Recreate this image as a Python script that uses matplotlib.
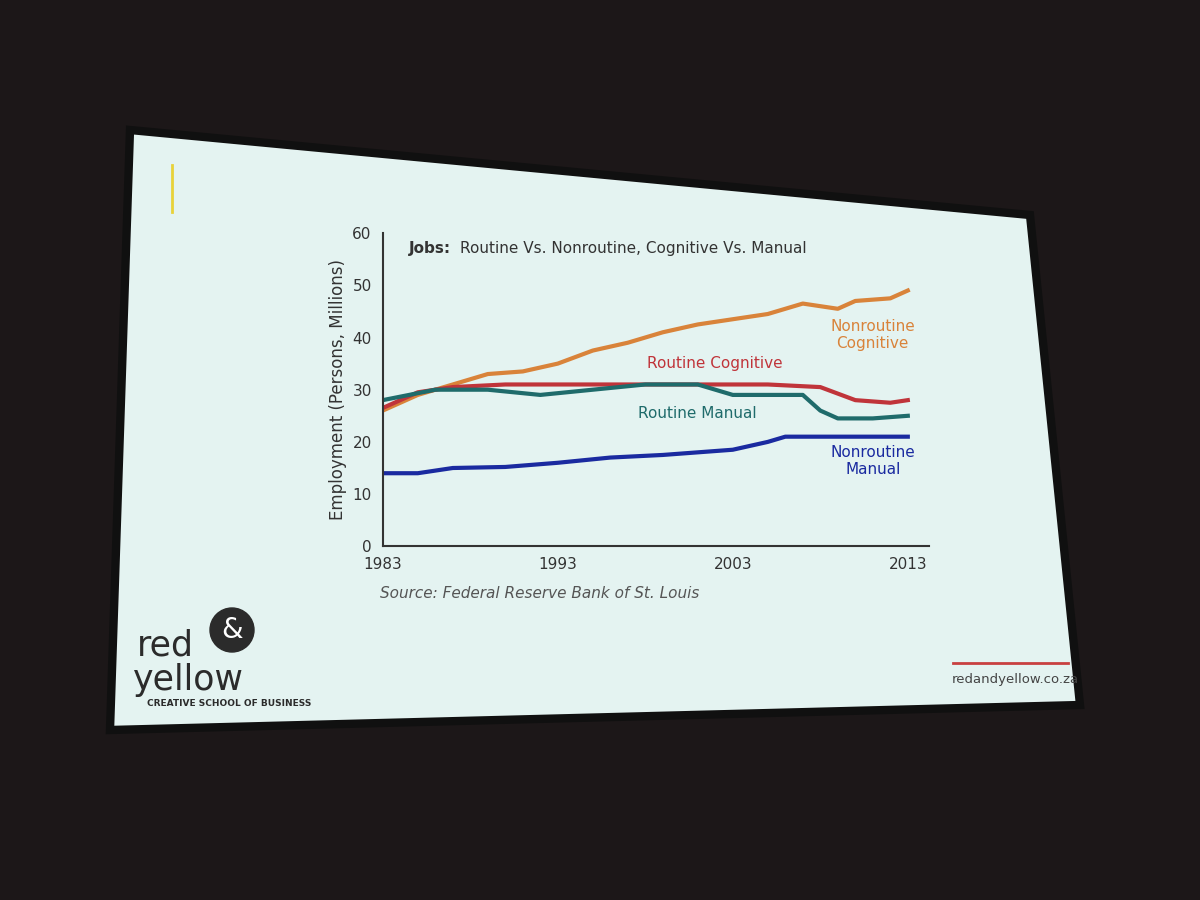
import matplotlib.pyplot as plt
from matplotlib.patches import Polygon

# series (millions of persons)
nc_years = [1983, 1985, 1987, 1989, 1991, 1993, 1995, 1997, 1999, 2001, 2003, 2005, 2007, 2009, 2010, 2012, 2013]
nc_vals = [26, 29, 31, 33, 33.5, 35, 37.5, 39, 41, 42.5, 43.5, 44.5, 46.5, 45.5, 47, 47.5, 49]
rc_years = [1983, 1985, 1987, 1990, 1995, 2000, 2005, 2008, 2010, 2012, 2013]
rc_vals = [26.5, 29.5, 30.5, 31, 31, 31, 31, 30.5, 28, 27.5, 28]
rm_years = [1983, 1986, 1989, 1992, 1995, 1998, 2001, 2003, 2005, 2007, 2008, 2009, 2011, 2013]
rm_vals = [28, 30, 30, 29, 30, 31, 31, 29, 29, 29, 26, 24.5, 24.5, 25]
nm_years = [1983, 1985, 1987, 1990, 1993, 1996, 1999, 2003, 2005, 2006, 2010, 2013]
nm_vals = [14, 14, 15, 15.2, 16, 17, 17.5, 18.5, 20, 21, 21, 21]

x_ticks = [1983, 1993, 2003, 2013]
y_ticks = [0, 10, 20, 30, 40, 50, 60]

fig = plt.figure(figsize=(12, 9), dpi=100)
fig.patch.set_facecolor('#1c1718')

# slide screen
bg = fig.add_axes([0, 0, 1, 1])
bg.set_xlim(0, 1200)
bg.set_ylim(900, 0)
bg.axis('off')
bg.add_patch(Polygon([[130, 130], [1030, 215], [1080, 705], [110, 730]],
                     closed=True, fc='#e4f3f1', ec='#101010', lw=6))
bg.plot([172, 172], [165, 212], color='#e8d23a', lw=2)
bg.plot([953, 1068], [663, 663], color='#c84040', lw=2)
bg.text(952, 680, 'redandyellow.co.za', fontsize=9.5, color='#444', va='center')
bg.text(137, 645, 'red', fontsize=25, color='#2b2b2b', va='center')
bg.text(133, 680, 'yellow', fontsize=25, color='#2b2b2b', va='center')
bg.add_patch(plt.Circle((232, 630), 22, color='#2b2b2b'))
bg.text(232, 630, '&', fontsize=20, color='white', ha='center', va='center')
bg.text(147, 703, 'CREATIVE SCHOOL OF BUSINESS', fontsize=6.5, color='#2b2b2b',
        fontweight='bold', va='center')
bg.text(380, 594, 'Source: Federal Reserve Bank of St. Louis', fontsize=11,
        color='#555', style='italic', va='center')

ax = fig.add_axes([0.319, 0.393, 0.455, 0.348])
ax.set_facecolor('none')
ax.plot(nc_years, nc_vals, color='#d9833a', lw=3)
ax.plot(rc_years, rc_vals, color='#c0343a', lw=3)
ax.plot(rm_years, rm_vals, color='#1f6b6b', lw=3)
ax.plot(nm_years, nm_vals, color='#1a2aa0', lw=3)

ax.set_xlim(1983, 2014.2)
ax.set_ylim(0, 60)
ax.set_xticks(x_ticks)
ax.set_yticks(y_ticks)
ax.tick_params(length=0, labelsize=11, colors='#333', pad=8)
for s in ['top', 'right']:
    ax.spines[s].set_visible(False)
for s in ['left', 'bottom']:
    ax.spines[s].set_color('#333')
    ax.spines[s].set_linewidth(1.5)
ax.set_ylabel('Employment (Persons, Millions)', fontsize=12, color='#333')

ax.text(1984.5, 57, 'Jobs:', fontsize=11, fontweight='bold', color='#333', va='center')
ax.text(1987.4, 57, 'Routine Vs. Nonroutine, Cognitive Vs. Manual', fontsize=11,
        color='#333', va='center')
ax.text(2011, 40.5, 'Nonroutine\nCognitive', fontsize=11, color='#d9833a', ha='center', va='center')
ax.text(2002, 35, 'Routine Cognitive', fontsize=11, color='#c0343a', ha='center', va='center')
ax.text(2001, 25.5, 'Routine Manual', fontsize=11, color='#1f6b6b', ha='center', va='center')
ax.text(2011, 16.3, 'Nonroutine\nManual', fontsize=11, color='#1a2aa0', ha='center', va='center')

plt.savefig('out.png', facecolor=fig.get_facecolor())
